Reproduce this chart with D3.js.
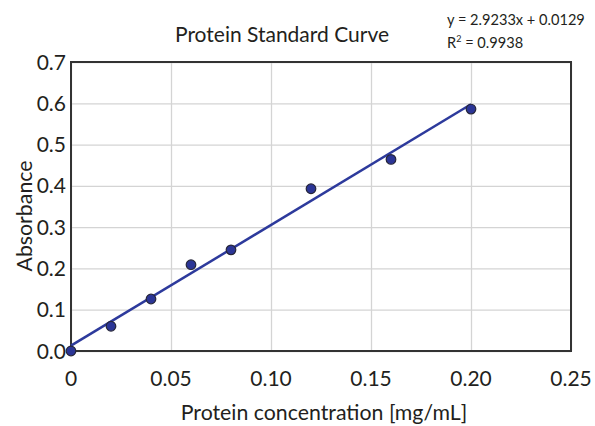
<!DOCTYPE html>
<html>
<head>
<meta charset="utf-8">
<script src="https://cdn.jsdelivr.net/npm/d3@7"></script>
<style>
  body { margin: 0; background: #fff; }
  text { font-family: Lato, "Open Sans", sans-serif; fill: #231f20; }
</style>
</head>
<body>
<div id="chart"></div>
<script>
// Standard curve readings
var concentrations = [0, 0.02, 0.04, 0.06, 0.08, 0.12, 0.16, 0.20];
var absorbances = [0.0, 0.060, 0.126, 0.209, 0.245, 0.393, 0.464, 0.586];
var xTicks = [0, 0.05, 0.10, 0.15, 0.20, 0.25];
var xTickLabels = ['0', '0.05', '0.10', '0.15', '0.20', '0.25'];
var yTicks = [0, 0.1, 0.2, 0.3, 0.4, 0.5, 0.6, 0.7];
var fitSlope = 2.9233, fitIntercept = 0.0129;
var fitRange = [0, 0.20];

var width = 595, height = 426;
var margin = {top: 62, right: 24, bottom: 75, left: 71};

var svg = d3.select('#chart').append('svg')
  .attr('width', width)
  .attr('height', height);

var x = d3.scaleLinear().domain([0, 0.25]).range([margin.left, width - margin.right]);
var y = d3.scaleLinear().domain([0, 0.7]).range([height - margin.bottom, margin.top]);

// grid
svg.append('g')
  .attr('transform', 'translate(0,' + y(0) + ')')
  .call(d3.axisBottom(x).tickValues(xTicks).tickSize(-(y(0) - y(0.7))).tickFormat(''))
  .call(function(g) {
    g.select('.domain').remove();
    g.selectAll('line').attr('stroke', '#d4d4d4').attr('stroke-width', 1.3);
  });
svg.append('g')
  .attr('transform', 'translate(' + x(0) + ',0)')
  .call(d3.axisLeft(y).tickValues(yTicks).tickSize(-(x(0.25) - x(0))).tickFormat(''))
  .call(function(g) {
    g.select('.domain').remove();
    g.selectAll('line').attr('stroke', '#d4d4d4').attr('stroke-width', 1.3);
  });

// frame
svg.append('rect')
  .attr('x', x(0)).attr('y', y(0.7))
  .attr('width', x(0.25) - x(0)).attr('height', y(0) - y(0.7))
  .attr('fill', 'none').attr('stroke', '#333').attr('stroke-width', 2);

// tick labels
svg.selectAll('.xlab').data(xTicks).enter().append('text')
  .attr('x', function(d) { return x(d); })
  .attr('y', 386)
  .attr('text-anchor', 'middle')
  .style('font-size', '21px')
  .text(function(d, i) { return xTickLabels[i]; });

svg.selectAll('.ylab').data(yTicks).enter().append('text')
  .attr('x', 66)
  .attr('y', function(d) { return y(d) + 7.5; })
  .attr('text-anchor', 'end')
  .style('font-size', '21px')
  .text(function(d) { return d.toFixed(1); });

// fit line
var line = d3.line()
  .x(function(d) { return x(d); })
  .y(function(d) { return y(fitSlope * d + fitIntercept); });
svg.append('path')
  .datum(fitRange)
  .attr('d', line)
  .attr('fill', 'none')
  .attr('stroke', '#2d3a9c')
  .attr('stroke-width', 2.5);

// points
svg.selectAll('.pt').data(concentrations).enter().append('circle')
  .attr('cx', function(d) { return x(d); })
  .attr('cy', function(d, i) { return y(absorbances[i]); })
  .attr('r', 4.8)
  .attr('fill', '#2b3596')
  .attr('stroke', '#26263a')
  .attr('stroke-width', 1.2);

// titles
svg.append('text')
  .attr('x', 282).attr('y', 42)
  .attr('text-anchor', 'middle')
  .style('font-size', '21px')
  .text('Protein Standard Curve');

svg.append('text')
  .attr('x', 447).attr('y', 25)
  .style('font-size', '14.6px')
  .text('y = 2.9233x + 0.0129');
var r2 = svg.append('text')
  .attr('x', 447).attr('y', 48)
  .style('font-size', '14.6px');
r2.append('tspan').text('R');
r2.append('tspan').attr('dy', -6).style('font-size', '9px').text('2');
r2.append('tspan').attr('dy', 6).text(' = 0.9938');

svg.append('text')
  .attr('x', 324).attr('y', 420)
  .attr('text-anchor', 'middle')
  .style('font-size', '21.3px')
  .text('Protein concentration [mg/mL]');

svg.append('text')
  .attr('transform', 'translate(32,' + 216 + ') rotate(-90)')
  .attr('text-anchor', 'middle')
  .style('font-size', '21.3px')
  .text('Absorbance');
</script>
</body>
</html>
